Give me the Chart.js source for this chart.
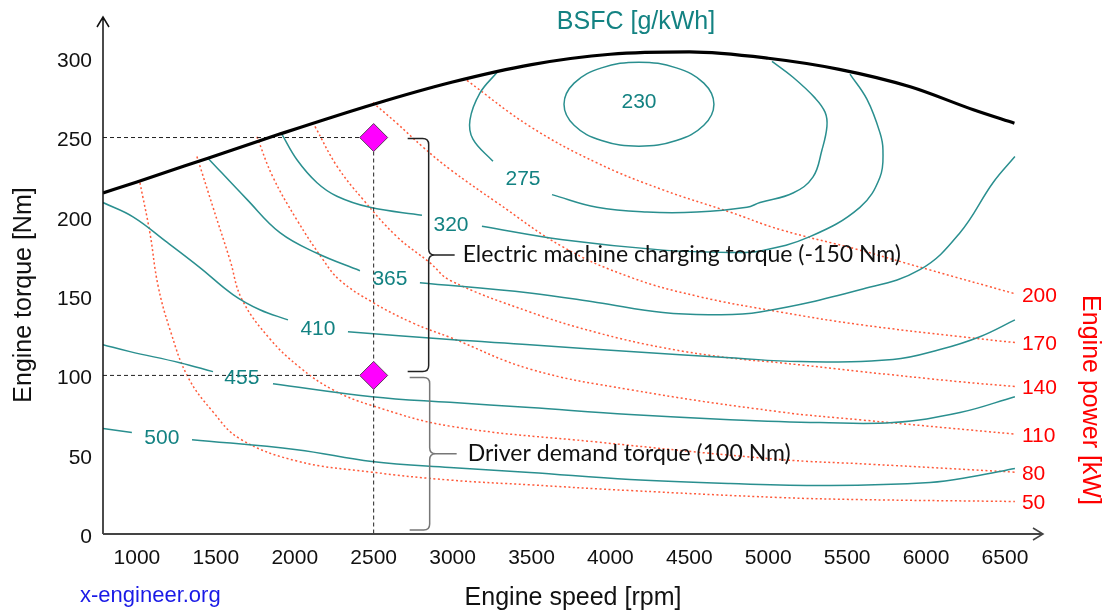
<!DOCTYPE html>
<html>
<head>
<meta charset="utf-8">
<title>BSFC map</title>
<script src="https://cdn.jsdelivr.net/npm/chart.js@4.4.0/dist/chart.umd.min.js"></script>
<style>
  html, body { margin: 0; padding: 0; background: #fff; }
  #wrap { width: 1108px; height: 610px; }
</style>
</head>
<body>
<div id="wrap"><canvas id="bsfc" width="1108" height="610"></canvas></div>
<script>
// axis ticks / range
const xTicks = [1000, 1500, 2000, 2500, 3000, 3500, 4000, 4500, 5000, 5500, 6000, 6500];
const yTicks = [0, 50, 100, 150, 200, 250, 300];
const rpmMin = 785, rpmMax = 6741, nmMax = 326;

// full load torque curve
const torqueRpm = [785, 1000, 1450, 1900, 2500, 3000, 3500, 4000, 4500, 5000, 5450, 5900, 6300, 6560];
const torqueMax = [215, 222, 237, 252, 271, 285, 296, 302.5, 304, 300, 293, 282, 267.5, 259];

// operating points (rpm, Nm)
const opRpm = [2500, 2500];
const opTorque = [250, 100];

// BSFC iso lines [rpm, Nm], split where the label sits
// 230 is a closed loop: first and last segments are only there to keep the join smooth
const bsfc230 = [[4592,257.7],[4656,271],[4592,284.3],[4418,293.9],[4181,297.5],[3944,293.9],[3770,284.3],[3706,271],
                 [3770,257.7],[3944,248.1],[4181,244.5],[4418,248.1],[4592,257.7],[4656,271],[4592,284.3]];
const bsfc275a = [[3281,291],[3173,278],[3110,261],[3129,249],[3256,235]];
const bsfc275b = [[3630,214],[3915,206],[4232,203],[4548,203],[4865,206],[4948,209],[5157,215],[5283,225],
                  [5340,242],[5372,257],[5360,266],[5296,275],[5157,288],[5024,298]];
const bsfc320a = [[1919,252],[2014,236],[2141,221.5],[2267,213],[2476,206],[2806,201]];
const bsfc320b = [[3186,194],[3699,185.5],[4333,179],[4758,177.5],[4948,178.5],[5264,187.5],[5581,206],
                  [5708,225],[5727,242],[5708,253],[5626,274],[5518,290]];
const bsfc365a = [[1450,237],[1697,211],[1906,190],[2141,177],[2413,166]];
const bsfc365b = [[2793,158.5],[3490,152],[3915,146],[4333,139.6],[4650,138.3],[4948,140],[5581,154],
                  [5961,166.7],[6215,190],[6424,221.5],[6563,238]];
const bsfc410a = [[785,209],[975,200],[1190,184],[1399,168],[1608,151],[1779,141.4],[1957,135]];
const bsfc410b = [[2337,127.6],[2983,122.6],[3490,119.4],[4124,115],[4758,111.2],[5201,108.7],[5790,110],
                  [6088,116.3],[6341,124.4],[6563,135]];
const bsfc455a = [[785,119.4],[956,115],[1272,108],[1482,102.4]];
const bsfc455b = [[1862,94.8],[2489,86.6],[2983,83],[3490,79.7],[4124,75.3],[4758,72.1],[5328,70.3],
                  [5790,70.3],[6215,76.6],[6563,86.6]];
const bsfc500a = [[785,66.5],[968,64]];
const bsfc500b = [[1349,59.5],[2014,53.2],[2489,45.7],[2983,41.9],[3490,38.8],[4124,34.3],[4758,31.8],
                  [5391,30.6],[6025,32.5],[6297,36.2],[6563,41.3]];

const bsfcLabels = ['230', '275', '320', '365', '410', '455', '500'];
const bsfcLabelRpm = [4181, 3446, 2990, 2603, 2147, 1665, 1158];
const bsfcLabelNm = [272.5, 224, 195, 160.5, 129, 98, 60.5];

// constant power lines [rpm, Nm]
const power50 = [[1019,221.5],[1082,190],[1133,157],[1209,129],[1323,99],[1482,77],[1653,60],[2014,46],
                 [2489,39],[2983,34],[3490,31],[4124,27.4],[5074,23],[5581,21.7],[6563,20.5]];
const power80 = [[1380,238],[1482,206],[1589,173],[1665,148],[1843,123],[2033,105],[2240,91],[2489,81],
                 [2983,68],[3915,58],[5074,47],[5645,44],[6563,39]];
const power110 = [[1760,250.5],[1862,225],[2014,198],[2179,173],[2286,160],[2495,146],[2749,133],[2983,124],
                  [3490,104],[4124,91],[5074,77],[5581,72],[6563,63]];
const power140 = [[2128,257],[2267,232],[2432,211],[2647,187.5],[2857,171],[2983,160],[3490,140],[3915,127],
                  [4333,117.5],[4758,111],[5074,108],[5581,102.5],[6215,96],[6563,93]];
const power170 = [[2495,272],[2647,259],[2812,244],[2983,230],[3281,209],[3699,181],[4124,162],[4548,150],
                  [5074,140],[5581,132],[6215,124.5],[6563,120.7]];
const power200 = [[3091,286],[3490,257],[3915,234],[4333,217],[4758,203],[5074,192],[5581,179],[6006,167],
                  [6563,151.5]];
const powerLines = [power50, power80, power110, power140, power170, power200];
const powerLabels = ['50', '80', '110', '140', '170', '200'];

const TEAL = '#2a8f8f';
const TEAL_TXT = '#138282';
const RED_DOT = '#ff5a3a';

const pts = arr => arr.map(([x, y]) => ({ x, y }));

function isoLine(arr) {
  return { data: pts(arr), showLine: true, borderColor: TEAL, borderWidth: 1.5,
           pointRadius: 0, tension: 0.4 };
}
function loopLine(arr) {
  const last = arr.length - 1;
  return Object.assign(isoLine(arr), {
    segment: {
      borderColor: c => (c.p0DataIndex === 0 || c.p1DataIndex === last) ? 'rgba(0,0,0,0)' : TEAL
    }
  });
}
function powerLine(arr) {
  return { data: pts(arr), showLine: true, borderColor: RED_DOT, borderWidth: 1.5,
           borderDash: [2, 2.5], pointRadius: 0, tension: 0.4 };
}

const datasets = [];
// diamonds on top (first dataset is drawn last)
datasets.push({
  data: opRpm.map((r, i) => ({ x: r, y: opTorque[i] })),
  pointStyle: 'rectRot', pointRadius: 14, backgroundColor: '#ff00ff',
  borderColor: '#5a3c5a', borderWidth: 1, showLine: false
});
datasets.push({
  data: torqueRpm.map((r, i) => ({ x: r, y: torqueMax[i] })),
  showLine: true, borderColor: '#000', borderWidth: 3.2, pointRadius: 0,
  cubicInterpolationMode: 'monotone'
});
// dashed guide lines
opTorque.forEach((t, i) => {
  datasets.push({
    data: [{ x: rpmMin, y: t }, { x: opRpm[i], y: t }],
    showLine: true, borderColor: '#222', borderWidth: 1, borderDash: [4, 3], pointRadius: 0
  });
});
datasets.push({
  data: [{ x: opRpm[0], y: opTorque[0] }, { x: opRpm[0], y: 0 }],
  showLine: true, borderColor: '#222', borderWidth: 1, borderDash: [4, 3], pointRadius: 0
});
datasets.push(loopLine(bsfc230));
[bsfc275a, bsfc275b, bsfc320a, bsfc320b, bsfc365a, bsfc365b,
 bsfc410a, bsfc410b, bsfc455a, bsfc455b, bsfc500a, bsfc500b].forEach(a => datasets.push(isoLine(a)));
powerLines.forEach(a => datasets.push(powerLine(a)));

function drawBrace(ctx, xEnd, xSpine, xTip, yTop, yBot, r) {
  const yMid = (yTop + yBot) / 2;
  ctx.beginPath();
  ctx.moveTo(xEnd, yTop);
  ctx.lineTo(xSpine - r, yTop);
  ctx.quadraticCurveTo(xSpine, yTop, xSpine, yTop + r);
  ctx.lineTo(xSpine, yMid - r);
  ctx.quadraticCurveTo(xSpine, yMid, xSpine + r, yMid);
  ctx.lineTo(xTip, yMid);
  ctx.moveTo(xSpine + r, yMid);
  ctx.quadraticCurveTo(xSpine, yMid, xSpine, yMid + r);
  ctx.lineTo(xSpine, yBot - r);
  ctx.quadraticCurveTo(xSpine, yBot, xSpine - r, yBot);
  ctx.lineTo(xEnd, yBot);
  ctx.stroke();
  return yMid;
}

const overlay = {
  id: 'overlay',
  afterDatasetsDraw(chart) {
    const { ctx, chartArea: a, scales: { x, y } } = chart;
    ctx.save();

    // axes with open arrow heads
    ctx.lineWidth = 1.5;
    ctx.strokeStyle = '#111';
    ctx.beginPath();
    ctx.moveTo(a.left, a.bottom); ctx.lineTo(a.left, a.top);
    ctx.moveTo(a.left - 6, a.top + 10); ctx.lineTo(a.left, a.top); ctx.lineTo(a.left + 6, a.top + 10);
    ctx.stroke();
    ctx.strokeStyle = '#444';
    ctx.lineWidth = 2;
    ctx.beginPath();
    ctx.moveTo(a.left, a.bottom); ctx.lineTo(a.right, a.bottom);
    ctx.stroke();
    ctx.lineWidth = 1.5;
    ctx.beginPath();
    ctx.moveTo(a.right - 10, a.bottom - 6); ctx.lineTo(a.right, a.bottom); ctx.lineTo(a.right - 10, a.bottom + 6);
    ctx.stroke();

    // iso line labels
    ctx.font = '21px "Liberation Sans", Arial, sans-serif';
    ctx.fillStyle = TEAL_TXT;
    ctx.textAlign = 'center';
    ctx.textBaseline = 'middle';
    bsfcLabels.forEach((t, i) => {
      ctx.fillText(t, x.getPixelForValue(bsfcLabelRpm[i]), y.getPixelForValue(bsfcLabelNm[i]));
    });

    // power labels at the end of each line
    ctx.fillStyle = '#ff0000';
    ctx.textAlign = 'left';
    powerLines.forEach((line, i) => {
      const last = line[line.length - 1];
      ctx.fillText(powerLabels[i], x.getPixelForValue(last[0]) + 7, y.getPixelForValue(last[1]) + 2);
    });

    // braces + notes
    const px = x.getPixelForValue(opRpm[0]);
    const yHi = y.getPixelForValue(opTorque[0]);
    const yLo = y.getPixelForValue(opTorque[1]);
    const y0 = y.getPixelForValue(0);
    ctx.lineWidth = 1.5;
    ctx.strokeStyle = '#222';
    const m1 = drawBrace(ctx, px + 34, px + 55, px + 81, yHi + 1, yLo - 4, 6);
    ctx.strokeStyle = '#777';
    const m2 = drawBrace(ctx, px + 36, px + 56, px + 83, yLo + 2, y0 - 4, 6);
    ctx.font = '23px Lato, "Noto Sans", sans-serif';
    ctx.fillStyle = '#111';
    ctx.fillText('Electric machine charging torque (-150 Nm)', px + 89, m1);
    ctx.fillText('Driver demand torque (100 Nm)', px + 94, m2);

    // titles
    ctx.font = '25px "Liberation Sans", Arial, sans-serif';
    ctx.textAlign = 'center';
    ctx.fillStyle = '#111';
    ctx.fillText('Engine speed [rpm]', (a.left + a.right) / 2, 598);
    ctx.fillStyle = TEAL_TXT;
    ctx.fillText('BSFC [g/kWh]', 636, 22);
    ctx.save();
    ctx.translate(24, 295);
    ctx.rotate(-Math.PI / 2);
    ctx.fillStyle = '#111';
    ctx.fillText('Engine torque [Nm]', 0, 0);
    ctx.restore();
    ctx.save();
    ctx.translate(1090, 400);
    ctx.rotate(Math.PI / 2);
    ctx.fillStyle = '#ff0000';
    ctx.fillText('Engine power [kW]', 0, 0);
    ctx.restore();
    ctx.font = '22px "Liberation Sans", Arial, sans-serif';
    ctx.fillStyle = '#1a1ae6';
    ctx.textAlign = 'left';
    ctx.fillText('x-engineer.org', 80, 596);

    ctx.restore();
  }
};

Chart.defaults.font.family = '"Liberation Sans", Arial, sans-serif';
Chart.defaults.font.size = 21;
Chart.defaults.color = '#111';

new Chart(document.getElementById('bsfc'), {
  type: 'scatter',
  data: { datasets },
  options: {
    responsive: false,
    animation: false,
    devicePixelRatio: 1,
    layout: { padding: { top: 17, right: 65, left: 0, bottom: 0 } },
    plugins: { legend: { display: false }, tooltip: { enabled: false } },
    scales: {
      x: {
        type: 'linear', min: rpmMin, max: rpmMax,
        grid: { display: false, drawTicks: false }, border: { display: false },
        afterBuildTicks: s => { s.ticks = xTicks.map(v => ({ value: v })); },
        afterFit: s => { s.height = 76; s.paddingLeft = 0; s.paddingRight = 0; },
        ticks: { padding: 12, color: '#111', maxRotation: 0, autoSkip: false, callback: v => String(v) }
      },
      y: {
        type: 'linear', min: 0, max: nmMax,
        grid: { display: false, drawTicks: false }, border: { display: false },
        afterBuildTicks: s => { s.ticks = yTicks.map(v => ({ value: v })); },
        afterFit: s => { s.width = 103; s.paddingTop = 0; s.paddingBottom = 0; },
        ticks: { padding: 11, labelOffset: 3, color: '#111', callback: v => String(v) }
      }
    }
  },
  plugins: [overlay]
});
</script>
</body>
</html>
